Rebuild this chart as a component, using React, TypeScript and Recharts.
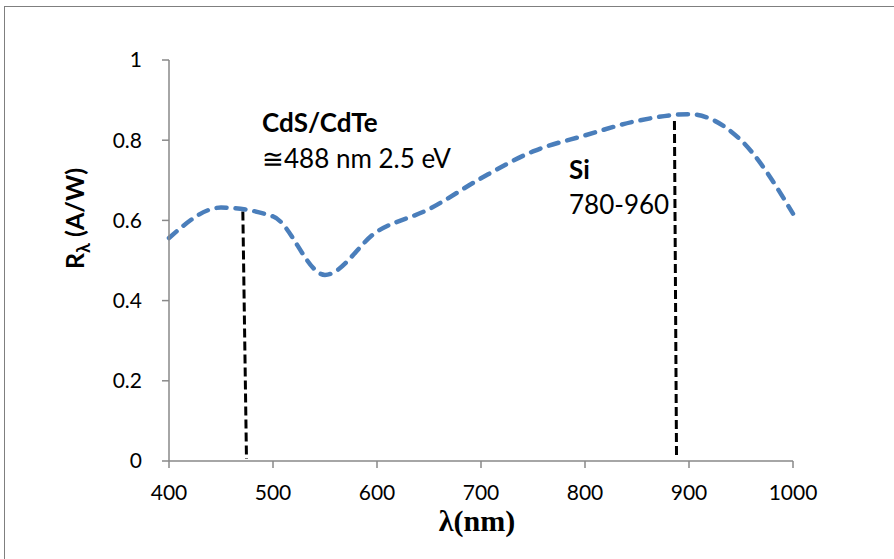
import { LineChart, Line, XAxis, YAxis, ReferenceLine } from "recharts";

// wavelength (nm) and responsivity (A/W)
const lambdaNm = [400, 450, 500, 550, 600, 650, 700, 750, 800, 850, 900, 950, 1000];
const responsivity = [0.556, 0.632, 0.61, 0.464, 0.572, 0.628, 0.705, 0.772, 0.812, 0.848, 0.865, 0.8, 0.617];

const xTicks = [400, 500, 600, 700, 800, 900, 1000];
const yTicks = [0, 0.2, 0.4, 0.6, 0.8, 1];

// the two dashed marker lines (top point, bottom point)
const cdsMarker = [
  { x: 471, y: 0.622 },
  { x: 474.5, y: 0.005 },
];
const siMarker = [
  { x: 886, y: 0.848 },
  { x: 888, y: 0.01 },
];

const data = lambdaNm.map((l, i) => ({ l, r: responsivity[i] }));

const axisColor = "#898989";
const sans = "Lato, 'Open Sans', sans-serif";
const tickFont = { fontSize: 21, fill: "#000", fontFamily: sans };

export default function App() {
  return (
    <div
      style={{
        position: "fixed",
        left: 0,
        top: 0,
        width: 894,
        height: 559,
        background: "#fff",
        overflow: "hidden",
      }}
    >
      {/* frame of the figure box */}
      <div
        style={{
          position: "absolute",
          left: 4,
          top: 6,
          width: 960,
          height: 620,
          border: "1.5px solid #7f7f7f",
        }}
      />

      <div style={{ position: "absolute", left: 0, top: 0 }}>
        <LineChart
          width={894}
          height={559}
          data={data}
          margin={{ top: 60, right: 101, bottom: 48, left: 0 }}
        >
          <XAxis
            dataKey="l"
            type="number"
            domain={[400, 1000]}
            ticks={xTicks}
            height={50}
            stroke={axisColor}
            strokeWidth={1.5}
            tickSize={7}
            tickMargin={17}
            tick={tickFont}
            label={{
              content: (props: any) => {
                const vb = props.viewBox;
                return (
                  <text
                    x={vb.x + vb.width / 2 - 4}
                    y={vb.y + 70}
                    textAnchor="middle"
                    style={{
                      fontFamily: "'Liberation Serif', 'Times New Roman', serif",
                      fontWeight: "bold",
                      fontSize: 30,
                    }}
                  >
                    λ(nm)
                  </text>
                );
              },
            }}
          />
          <YAxis
            type="number"
            domain={[0, 1]}
            ticks={yTicks}
            width={169}
            stroke={axisColor}
            strokeWidth={1.5}
            tickSize={7}
            tickMargin={20}
            tick={tickFont}
            tickFormatter={(v: number) => String(v)}
            label={{
              content: (props: any) => {
                const vb = props.viewBox;
                const cx = vb.x + 84;
                const cy = vb.y + vb.height / 2 - 42;
                return (
                  <text
                    x={cx}
                    y={cy}
                    textAnchor="middle"
                    transform={`rotate(-90 ${cx} ${cy})`}
                    style={{ fontFamily: sans, fontWeight: "bold", fontSize: 25 }}
                  >
                    R
                    <tspan dy={6} fontSize={18}>
                      λ
                    </tspan>
                    <tspan dy={-6}> (A/W)</tspan>
                  </text>
                );
              },
            }}
          />
          <ReferenceLine
            segment={cdsMarker}
            stroke="#000"
            strokeWidth={3}
            strokeDasharray="9 4"
          />
          <ReferenceLine
            segment={siMarker}
            stroke="#000"
            strokeWidth={3}
            strokeDasharray="9 4"
          />
          <Line
            type="monotone"
            dataKey="r"
            stroke="#4A7EBB"
            strokeWidth={4.5}
            strokeDasharray="10 9"
            strokeLinecap="round"
            dot={false}
            isAnimationActive={false}
          />
        </LineChart>
      </div>

      {/* annotations */}
      <div
        style={{
          position: "absolute",
          left: 262,
          top: 104,
          fontFamily: sans,
          fontSize: 26,
          lineHeight: "36px",
          color: "#000",
        }}
      >
        <div style={{ fontWeight: "bold" }}>CdS/CdTe</div>
        <div>≅488 nm 2.5 eV</div>
      </div>
      <div
        style={{
          position: "absolute",
          left: 569,
          top: 152,
          fontFamily: sans,
          fontSize: 26,
          lineHeight: "35px",
          color: "#000",
        }}
      >
        <div style={{ fontWeight: "bold" }}>Si</div>
        <div>780-960</div>
      </div>
    </div>
  );
}
